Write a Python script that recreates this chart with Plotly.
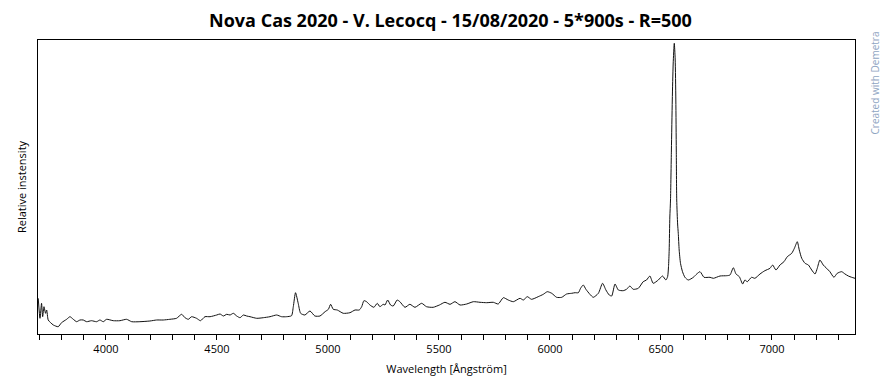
import plotly.graph_objects as go

# Wavelength (Angstrom) and relative intensity
wavelength = [
    3695, 3703, 3710, 3715, 3721, 3728, 3733, 3740, 3751, 3763, 3785, 3800, 3823, 3838, 3853,
    3868, 3883, 3898, 3913, 3935, 3958, 3973, 3988, 4003, 4033, 4063, 4093, 4116, 4153, 4198,
    4228, 4258, 4288, 4318, 4341, 4356, 4371, 4386, 4408, 4426, 4446, 4469, 4499, 4514, 4529,
    4544, 4559, 4574, 4589, 4604, 4619, 4634, 4649, 4679, 4709, 4739, 4769, 4791, 4814, 4836,
    4844, 4854, 4866, 4877, 4896, 4919, 4941, 4964, 4987, 5002, 5012, 5024, 5042, 5069, 5099,
    5122, 5141, 5152, 5162, 5174, 5189, 5207, 5222, 5234, 5249, 5257, 5269, 5282, 5294, 5312,
    5324, 5347, 5369, 5392, 5422, 5444, 5474, 5502, 5527, 5550, 5572, 5595, 5625, 5655, 5685,
    5715, 5745, 5767, 5790, 5812, 5835, 5865, 5880, 5898, 5917, 5947, 5970, 5988, 6008, 6030,
    6053, 6075, 6098, 6113, 6128, 6138, 6150, 6162, 6180, 6195, 6218, 6237, 6252, 6267, 6278,
    6293, 6308, 6330, 6345, 6360, 6375, 6398, 6420, 6435, 6450, 6465, 6488, 6507, 6522, 6530,
    6534, 6537, 6540, 6543, 6547, 6551, 6555, 6560, 6564, 6567, 6569, 6571, 6575, 6578, 6582,
    6588, 6597, 6608, 6623, 6646, 6661, 6676, 6694, 6721, 6736, 6766, 6796, 6811, 6826, 6838,
    6853, 6868, 6878, 6889, 6908, 6923, 6946, 6968, 6991, 7003, 7018, 7036, 7054, 7069, 7089,
    7101, 7114, 7123, 7134, 7149, 7164, 7179, 7194, 7204, 7216, 7231, 7246, 7261, 7279, 7294,
    7314, 7329, 7344, 7359, 7374,
]
intensity = [
    0.357, 0.157, 0.307, 0.173, 0.273, 0.207, 0.240, 0.140, 0.113, 0.090, 0.073, 0.113, 0.147, 0.173, 0.147,
    0.123, 0.140, 0.140, 0.123, 0.133, 0.123, 0.140, 0.123, 0.147, 0.133, 0.133, 0.147, 0.123, 0.123, 0.130,
    0.140, 0.140, 0.147, 0.157, 0.197, 0.163, 0.147, 0.173, 0.157, 0.133, 0.173, 0.173, 0.190, 0.200, 0.180,
    0.197, 0.190, 0.207, 0.180, 0.163, 0.190, 0.180, 0.173, 0.157, 0.163, 0.173, 0.190, 0.173, 0.173, 0.183,
    0.273, 0.413, 0.307, 0.207, 0.190, 0.230, 0.180, 0.180, 0.223, 0.247, 0.297, 0.247, 0.240, 0.207, 0.213,
    0.240, 0.240, 0.273, 0.333, 0.323, 0.290, 0.267, 0.307, 0.273, 0.297, 0.290, 0.340, 0.290, 0.280, 0.340,
    0.323, 0.267, 0.297, 0.267, 0.307, 0.273, 0.267, 0.290, 0.317, 0.297, 0.323, 0.290, 0.300, 0.323, 0.317,
    0.313, 0.317, 0.300, 0.363, 0.340, 0.323, 0.357, 0.340, 0.373, 0.347, 0.373, 0.397, 0.423, 0.407, 0.367,
    0.367, 0.400, 0.407, 0.413, 0.413, 0.457, 0.490, 0.447, 0.397, 0.367, 0.407, 0.507, 0.440, 0.390, 0.380,
    0.500, 0.440, 0.433, 0.447, 0.480, 0.447, 0.457, 0.523, 0.540, 0.580, 0.507, 0.540, 0.580, 0.540, 0.573,
    0.673, 0.840, 1.170, 1.340, 1.840, 2.340, 2.700, 2.907, 2.750, 2.340, 1.840, 1.340, 1.100, 1.007, 0.840,
    0.707, 0.623, 0.567, 0.540, 0.567, 0.600, 0.623, 0.567, 0.567, 0.557, 0.580, 0.583, 0.590, 0.663, 0.600,
    0.573, 0.500, 0.540, 0.523, 0.567, 0.557, 0.600, 0.633, 0.657, 0.690, 0.640, 0.690, 0.723, 0.773, 0.807,
    0.857, 0.923, 0.840, 0.757, 0.707, 0.690, 0.640, 0.600, 0.657, 0.740, 0.690, 0.657, 0.623, 0.567, 0.607,
    0.623, 0.600, 0.580, 0.567, 0.557,
]

tick_values = [4000, 4500, 5000, 5500, 6000, 6500, 7000]
tick_labels = ["4000", "4500", "5000", "5500", "6000", "6500", "7000"]

title_text = "Nova Cas 2020 - V. Lecocq - 15/08/2020 - 5*900s - R=500"
x_title = "Wavelength [Ångström]"
y_title = "Relative instensity"
watermark = "Created with Demetra"

FONT = "Open Sans, Noto Sans, DejaVu Sans, sans-serif"

# The page body adds an 8 px margin, so the figure is drawn 8 px smaller
W, H = 885, 381
L, R, T, B = 30, 38, 32, 55
PW, PH = W - L - R, H - T - B

fig = go.Figure()
fig.add_trace(go.Scatter(
    x=wavelength, y=intensity, mode="lines",
    line=dict(color="#111111", width=1, shape="spline", smoothing=0.6),
    hoverinfo="x+y", showlegend=False,
))

fig.update_layout(
    width=W, height=H,
    margin=dict(l=L, r=R, t=T, b=B),
    paper_bgcolor="white", plot_bgcolor="white",
    font=dict(family=FONT, size=11, color="#000000"),
    title=dict(text="<b>" + title_text + "</b>", x=0.5, xanchor="center",
               y=1 - 12.5 / H, yanchor="middle",
               font=dict(family=FONT, size=18, color="#000000")),
    xaxis=dict(
        range=[3694, 7374],
        tickmode="array", tickvals=tick_values, ticktext=tick_labels,
        ticks="outside", ticklen=5, tickcolor="black", tickwidth=1,
        minor=dict(dtick=100, tick0=0, ticks="outside", ticklen=5, tickcolor="black", showgrid=False),
        showgrid=False, zeroline=False,
        showline=True, linecolor="black", linewidth=1, mirror=True,
        tickfont=dict(size=11, color="#000000"),
        title=dict(text=x_title, font=dict(size=11), standoff=10),
    ),
    yaxis=dict(
        range=[0, 2.94],
        showticklabels=False, ticks="", showgrid=False, zeroline=False,
        showline=True, linecolor="black", linewidth=1, mirror=True,
        title=dict(text=y_title, font=dict(size=11), standoff=8),
    ),
    annotations=[dict(
        text=watermark, xref="paper", yref="paper",
        x=1 + 20 / PW, y=1 + 10 / PH, xanchor="center", yanchor="top",
        textangle=-90, showarrow=False,
        font=dict(family=FONT, size=10, color="#8fa5c2"),
    )],
)

fig.write_html("out.html")
